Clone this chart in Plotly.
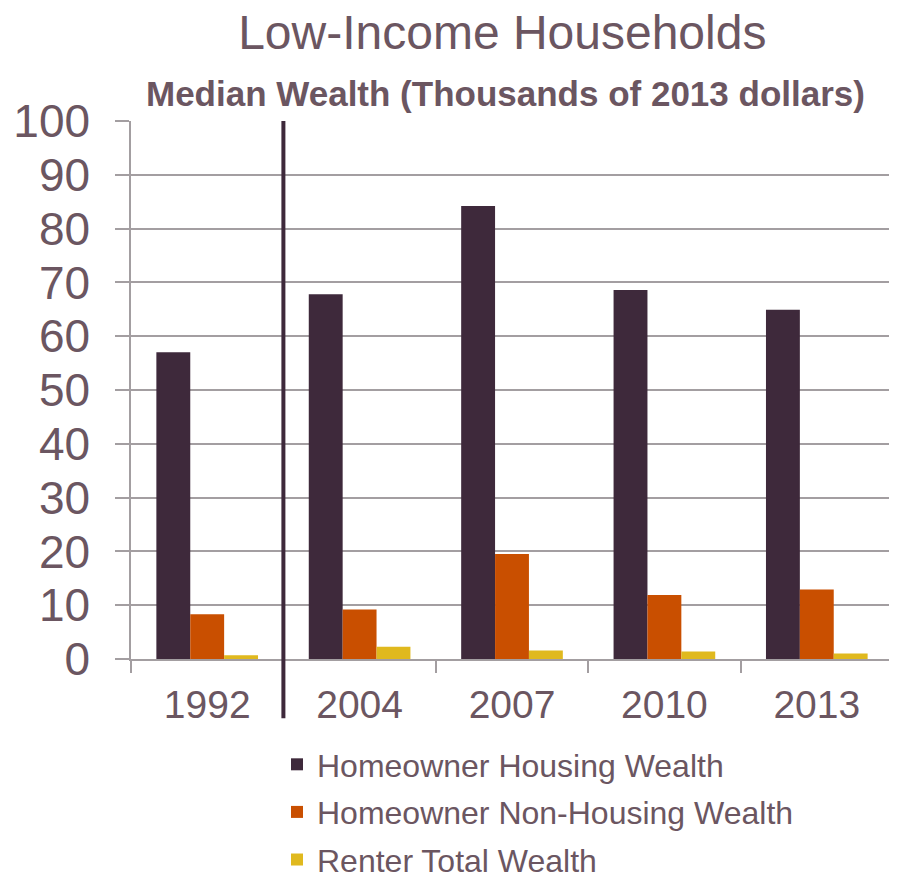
import plotly.graph_objects as go

years = ["1992", "2004", "2007", "2010", "2013"]
housing = [57.0, 67.8, 84.2, 68.6, 64.9]
non_housing = [8.3, 9.2, 19.5, 11.9, 12.9]
renter = [0.7, 2.3, 1.6, 1.4, 1.0]
series_names = ["Homeowner Housing Wealth", "Homeowner Non-Housing Wealth", "Renter Total Wealth"]
colors = ["#3e293b", "#c94f00", "#e0b91e"]
y_ticks = [0, 10, 20, 30, 40, 50, 60, 70, 80, 90, 100]

TXT = "#6b5661"
GRID = "#a39ea1"
FONT = "Liberation Sans, Arial, sans-serif"

fig = go.Figure()
for i, (name, vals) in enumerate(zip(series_names, [housing, non_housing, renter])):
    fig.add_trace(go.Bar(x=years, y=vals, name=name, marker_color=colors[i],
                         marker_line_width=0, legendgroup=f"g{i}"))

fig.add_shape(type="line", xref="x", yref="paper", x0=0.5, x1=0.5, y0=-0.11, y1=1.0,
              line=dict(color="#3e293b", width=4))

fig.update_layout(
    width=889, height=868,
    margin=dict(l=123, r=4, t=113, b=217, autoexpand=False),
    paper_bgcolor="white", plot_bgcolor="white",
    font=dict(family=FONT, color=TXT),
    bargap=0.333, bargroupgap=0,
    title=dict(text="Low-Income Households", x=0.556, xanchor="center", y=0.9724, yanchor="middle",
               font=dict(size=48, color=TXT, family=FONT)),
    showlegend=True,
    legend=dict(x=0.1916, y=-0.145, xanchor="left", yanchor="top", orientation="v",
                font=dict(size=32, color=TXT), tracegroupgap=3, traceorder="grouped",
                bgcolor="rgba(0,0,0,0)"),
    annotations=[dict(text="<b>Median Wealth (Thousands of 2013 dollars)</b>", xref="paper", yref="paper",
                      x=0.492, y=1.052, xanchor="center", yanchor="middle", showarrow=False,
                      font=dict(size=35, color=TXT, family=FONT))],
)

fig.update_yaxes(range=[0, 100], tickvals=y_ticks, ticktext=[str(v) for v in y_ticks],
                 showgrid=True, gridcolor=GRID, gridwidth=1.5,
                 showline=True, linecolor=GRID, linewidth=1.5,
                 ticks="outside", ticklen=14, tickcolor=GRID, tickwidth=1.5,
                 tickfont=dict(size=46, color=TXT), ticklabelstandoff=16,
                 zeroline=False, automargin=False)
fig.update_xaxes(showline=True, linecolor=GRID, linewidth=2,
                 ticks="outside", ticklen=12, tickcolor=GRID, tickwidth=1.5,
                 tickson="boundaries", showgrid=False,
                 tickfont=dict(size=39, color=TXT), ticklabelstandoff=10, automargin=False)

fig.write_html("out.html")
